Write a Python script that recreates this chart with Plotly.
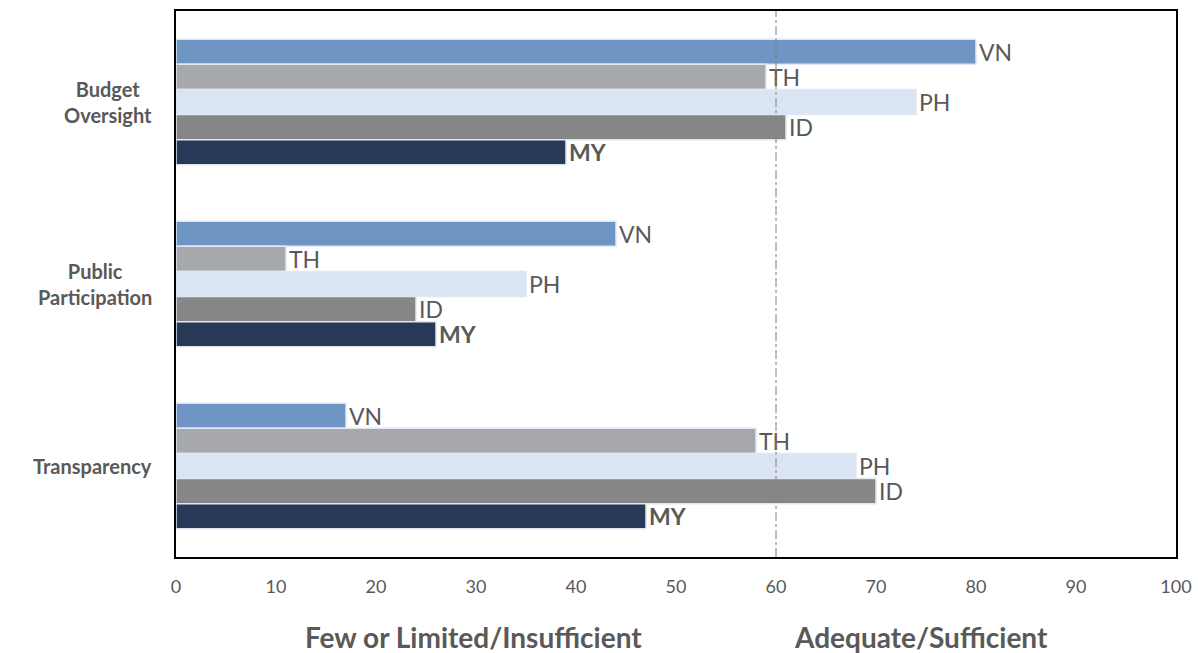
import plotly.graph_objects as go

# Survey categories (top to bottom) and country series
categories = ["Budget Oversight", "Public Participation", "Transparency"]
category_labels = ["Budget<br>Oversight", "Public<br>Participation", "Transparency"]
countries = ["VN", "TH", "PH", "ID", "MY"]

vn = [80, 44, 17]
th = [59, 11, 58]
ph = [74, 35, 68]
id_ = [61, 24, 70]
my = [39, 26, 47]
series_values = [vn, th, ph, id_, my]

colors = ["#6f95c4", "#a7a8ab", "#dbe4f2", "#868686", "#283857"]

threshold = 60
x_ticks = list(range(0, 101, 10))
zone_labels = ["Few or Limited/Insufficient", "Adequate/Sufficient"]
zone_centers = [29.7, 74.5]

FONT = "Lato"
GREY_TEXT = "#595959"

fig = go.Figure()
for name, vals, col in zip(countries, series_values, colors):
    label = f"<b>{name}</b>" if name == "MY" else name
    fig.add_trace(go.Bar(
        y=categories,
        x=vals,
        orientation="h",
        name=name,
        marker=dict(color=col, line=dict(color="#dfe8f4", width=1.5)),
        text=[label] * len(vals),
        textposition="outside",
        textfont=dict(family=FONT, size=23, color=GREY_TEXT),
        constraintext="none",
        cliponaxis=False,
        hoverinfo="x+name",
    ))

# threshold line
fig.add_shape(
    type="line", xref="x", yref="paper",
    x0=threshold, x1=threshold, y0=0, y1=1,
    line=dict(color="#808080", width=1, dash="dashdot"),
    layer="above",
)

# category labels on the left
for cat, lab in zip(categories, category_labels):
    fig.add_annotation(
        x=0, xref="paper", y=cat, yref="y",
        text=f"<b>{lab}</b>", showarrow=False,
        xanchor="right", align="center", xshift=-22,
        font=dict(family=FONT, size=20, color=GREY_TEXT),
    )

# zone labels beneath the axis
for txt, cx in zip(zone_labels, zone_centers):
    fig.add_annotation(
        x=cx, xref="x", y=0, yref="paper", yshift=-80,
        text=f"<b>{txt}</b>", showarrow=False,
        xanchor="center", yanchor="middle",
        font=dict(family=FONT, size=28, color=GREY_TEXT),
    )

fig.update_layout(
    width=1198, height=653,
    margin=dict(l=176, r=22, t=11, b=96),
    barmode="group",
    bargap=0.31,
    bargroupgap=0,
    showlegend=False,
    plot_bgcolor="white",
    paper_bgcolor="white",
    font=dict(family=FONT, color=GREY_TEXT),
)
fig.update_xaxes(
    range=[0, 100], tickvals=x_ticks, ticks="",
    ticklabelstandoff=12, automargin=False,
    tickfont=dict(family=FONT, size=18, color=GREY_TEXT),
    showgrid=False, zeroline=False,
    showline=True, linecolor="black", linewidth=2, mirror=True,
)
fig.update_yaxes(
    range=[2.5, -0.5], showticklabels=False, ticks="", automargin=False,
    showgrid=False, zeroline=False,
    showline=True, linecolor="black", linewidth=2, mirror=True,
)

fig.write_html("out.html")
